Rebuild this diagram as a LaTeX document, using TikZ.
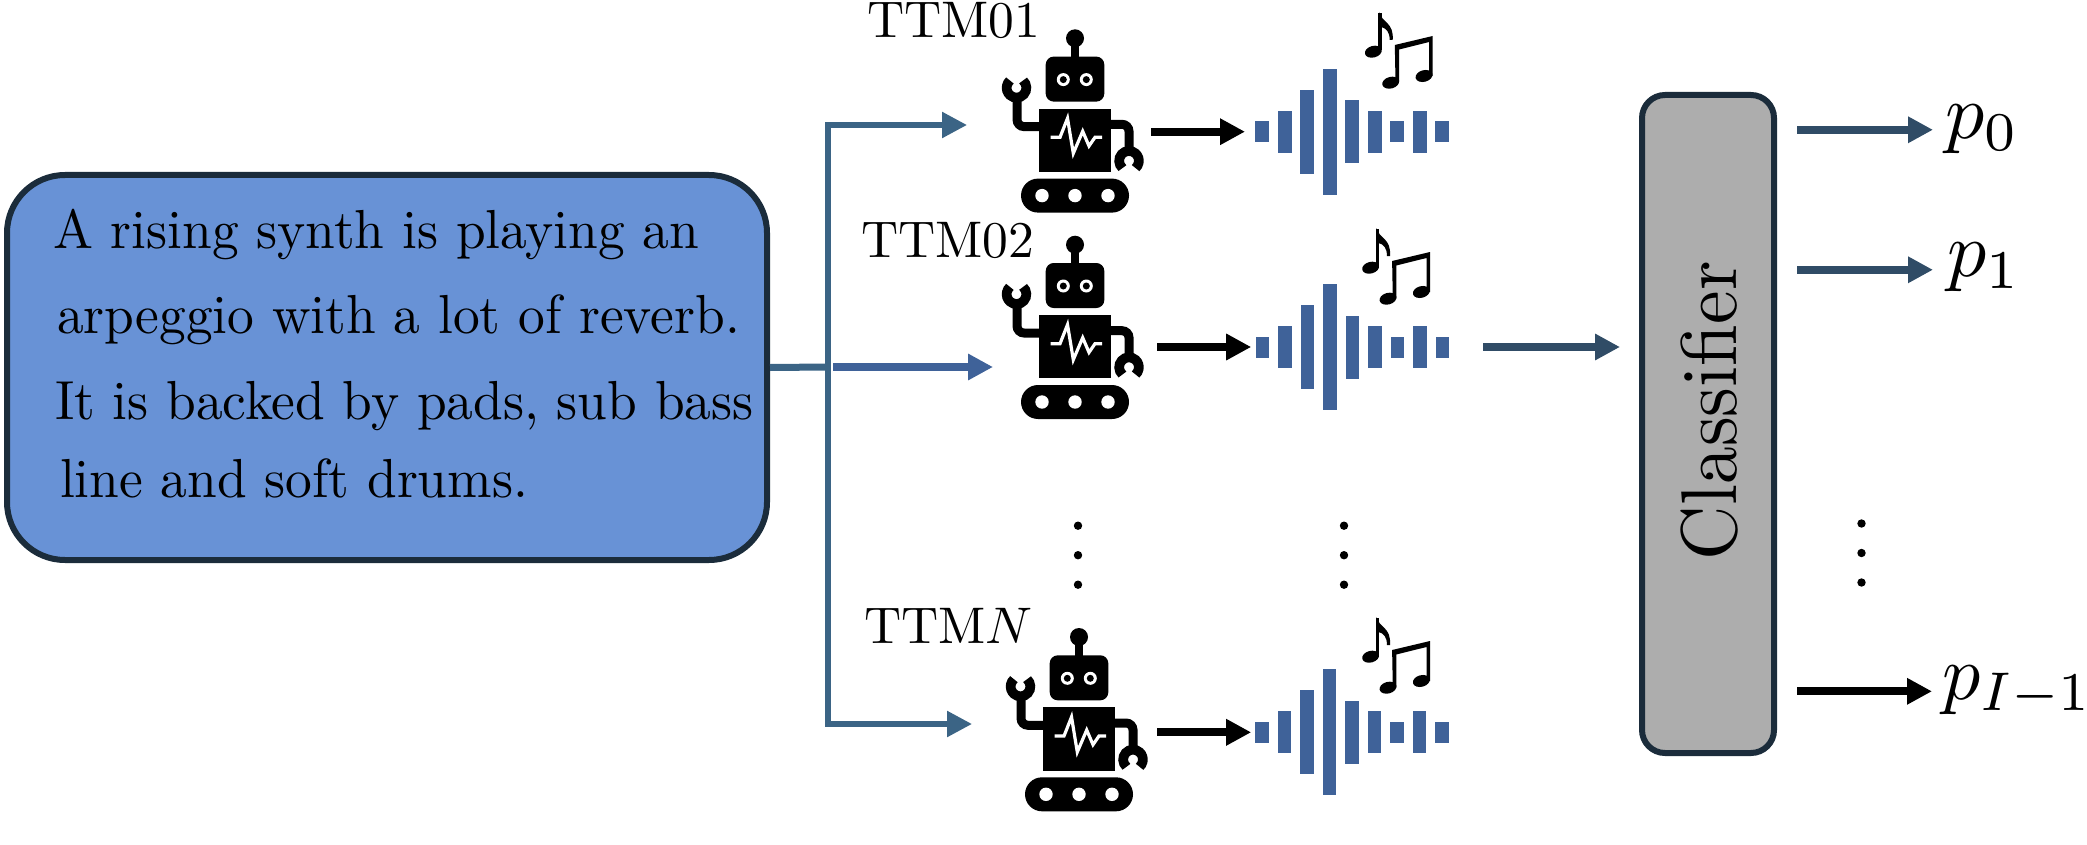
\documentclass[tikz,border=0pt]{standalone}
\usepackage{amsmath}
\usetikzlibrary{arrows.meta,positioning}
\definecolor{custcol_6a_93_d6}{RGB}{104, 146, 214}
\definecolor{custcol_1b_2c_3b}{RGB}{27, 44, 59}
\definecolor{custcol_3b_64_85}{RGB}{59, 100, 133}
\definecolor{custcol_3f_62_99}{RGB}{63, 98, 153}
\definecolor{custcol_30_4c_66}{RGB}{48, 76, 102}
\definecolor{custcol_ad_ad_ad}{RGB}{173, 173, 173}
\tikzset{
	tip/.style={-{Triangle[length=25pt,width=25pt]}},
	feedwire/.style={tip, line width=5.5pt, custcol_3b_64_85},
	genwire/.style={tip, line width=8pt, black},
	clswire/.style={tip, line width=8.5pt, custcol_30_4c_66},
	robotbox/.style={inner sep=0, outer sep=0, minimum width=142pt, minimum height=184pt},
	wavebox/.style={inner sep=0, outer sep=0, minimum width=193.6pt, minimum height=126pt},
	linetext/.style={inner sep=0, outer sep=0, xscale=5.34, yscale=5.5, anchor=base west},
	ttmtext/.style={inner sep=0, outer sep=0, scale=5.15, anchor=base west},
	probtext/.style={inner sep=0, outer sep=0, scale=7.8, anchor=base west},
	robotpic/.pic={
		\begin{scope}[shift={(0,19.5)}]
			\fill (0,-102) circle (9);
			\fill (-4,-96) rectangle (4,-80);
			\fill[rounded corners=8pt] (-29.3,-83.7) rectangle (29.3,-38.7);
			\foreach \ex in {-11.7,11.3} {
				\fill[white] (\ex,-60.7) circle (6.5);
				\fill (\ex,-60.7) circle (3.5);
			}
			\fill (-36,-31.7) rectangle (36,31.7);
			\draw[white, line width=3.2pt, line join=miter] (-24.5,-3) -- (-15,-3) -- (-7.5,-22) -- (-1.7,13) -- (7.7,-9) -- (14,5.7) -- (20,-3) -- (27,-3);
			\draw[line width=9pt, rounded corners=7pt] (-36,-13.7) -- (-58,-13.7) -- (-58,-45);
			\draw[line width=9.7pt] ([shift={(-48:9.85)}]-58.5,-52.5) arc[start angle=-48, end angle=228, radius=9.85];
			\draw[line width=9pt, rounded corners=7pt] (36,-16) -- (54,-16) -- (54,13);
			\draw[line width=9.7pt] ([shift={(132:9.85)}]54,20.5) arc[start angle=132, end angle=408, radius=9.85];
			\fill[rounded corners=17pt] (-54,38.3) rectangle (54,72.3);
			\foreach \wx in {-33,0,33}
				\fill[white] (\wx,55.3) circle (6.7);
		\end{scope}
	},
	wavepic/.pic={
		\foreach \i/\h in {0/21,1/42,2/84,3/126,4/63,5/42,6/21,7/42,8/21}
			\fill[custcol_3f_62_99] ({(\i-4)*22.5-6.85},{-\h/2}) rectangle ++(13.7,\h);
	},
	notepic/.pic={
		\fill[rotate around={15:(23.3,51.7)}] (23.3,51.7) ellipse (8.6 and 5.8);
		\fill (28.3,12.7) rectangle (31.8,50);
		\fill (29,12) .. controls (32,23) and (44,22) .. (42.7,40) -- (39.5,40) .. controls (40,32) and (36,28) .. (31,27) -- cycle;
		\fill[rotate around={15:(40.7,82.7)}] (40.7,82.7) ellipse (8.6 and 5.8);
		\fill[rotate around={15:(74,76)}] (74,76) ellipse (8.6 and 5.8);
		\fill (44.8,45) -- (82.7,36) -- (82.7,76) -- (79.2,76) -- (79.2,42) -- (49,49.5) -- (49,82) -- (45.5,82) -- cycle;
	},
	dotpic/.pic={
		\foreach \dy in {0,29.5,59}
			\fill (0,\dy) circle (4.2);
	},
}
\begin{document}
\begin{tikzpicture}[x=1pt,y=-1pt,line cap=butt]
	\useasboundingbox (0,0) rectangle (2087,845);
	% prompt
	\node[draw=custcol_1b_2c_3b, fill=custcol_6a_93_d6, line width=6pt, rounded corners=58pt, inner sep=0, minimum width=760pt, minimum height=385pt] (prompt) at (387,367.5) {};
	\node[linetext] (lineA) at (53,248) {A rising synth is playing an};
	\node[linetext] (lineB) at (57,333) {arpeggio with a lot of reverb.};
	\node[linetext] (lineC) at (55,419) {It is backed by pads, sub bass};
	\node[linetext] (lineD) at (60,497) {line and soft drums.};
	% robots
	\node[robotbox] (robotA) at (1075,120.8) {};
	\node[robotbox] (robotB) at (1075,327.2) {};
	\node[robotbox] (robotC) at (1079,719.5) {};
	\pic at (robotA) {robotpic};
	\pic at (robotB) {robotpic};
	\pic at (robotC) {robotpic};
	\node[ttmtext] (ttmA) at (867,37.5) {TTM01};
	\node[ttmtext] (ttmB) at (861,257.3) {TTM02};
	\node[ttmtext] (ttmC) at (864,643) {TTM\(N\)};
	% waves
	\node[wavebox] (waveA) at (1352.3,131.7) {};
	\node[wavebox] (waveB) at (1352.5,347) {};
	\node[wavebox] (waveC) at (1352,732.3) {};
	\pic at (waveA) {wavepic};
	\pic at (waveB) {wavepic};
	\pic at (waveC) {wavepic};
	\pic at (1350,0) {notepic};
	\pic at (1347.3,216) {notepic};
	\pic at (1347.3,605) {notepic};
	\pic at (1078,525.7) {dotpic};
	\pic at (1344,525.7) {dotpic};
	\pic at (1861.5,523.5) {dotpic};
	% classifier
	\node[draw=custcol_1b_2c_3b, fill=custcol_ad_ad_ad, line width=6pt, rounded corners=23pt, inner sep=0, minimum width=132pt, minimum height=658pt] (clf) at (1708,424) {};
	\node[inner sep=0, outer sep=0, rotate=90, xscale=7.55, yscale=7.9, anchor=base] (clftext) at (1736,410.7) {Classifier};
	% outputs
	\node[probtext] (pA) at (1945,139) {\(p_0\)};
	\node[probtext] (pB) at (1947,276.5) {\(p_1\)};
	\node[probtext, xscale=0.975] (pC) at (1942,699) {\(p_{I-1}\)};
	% connectors
	\coordinate (trunkM) at (828,367);
	\coordinate (inA) at (967,125);
	\coordinate (inB) at (993,367);
	\coordinate (inC) at (972,724);
	\draw[line width=7pt, custcol_3b_64_85] (prompt.east) -- (trunkM);
	\draw[feedwire] (trunkM) |- (inA);
	\draw[feedwire] (trunkM) |- (inC);
	\draw[genwire, custcol_3f_62_99, shorten <=5pt] (trunkM) -- (inB);
	\draw[genwire, shorten <=5pt, shorten >=10.5pt] (robotA.east |- waveA.west) -- (waveA.west);
	\draw[genwire, shorten <=11pt, shorten >=4.5pt] (robotB.east |- waveB.west) -- (waveB.west);
	\draw[genwire, shorten <=7pt, shorten >=4pt] (robotC.east |- waveC.west) -- (waveC.west);
	\draw[clswire, shorten <=34pt, shorten >=19pt] (waveB.east) -- (waveB.east -| clf.west);
	\draw[clswire, shorten <=20pt, shorten >=12pt] (clf.east |- pA.west) -- (pA.west);
	\draw[clswire, shorten <=20pt, shorten >=14pt] ([yshift=-2.5pt]clf.east |- pB.west) -- ([yshift=-2.5pt]pB.west);
	\draw[genwire, shorten <=20pt, shorten >=10pt] (clf.east |- pC.west) -- (pC.west);
\end{tikzpicture}
\end{document}
